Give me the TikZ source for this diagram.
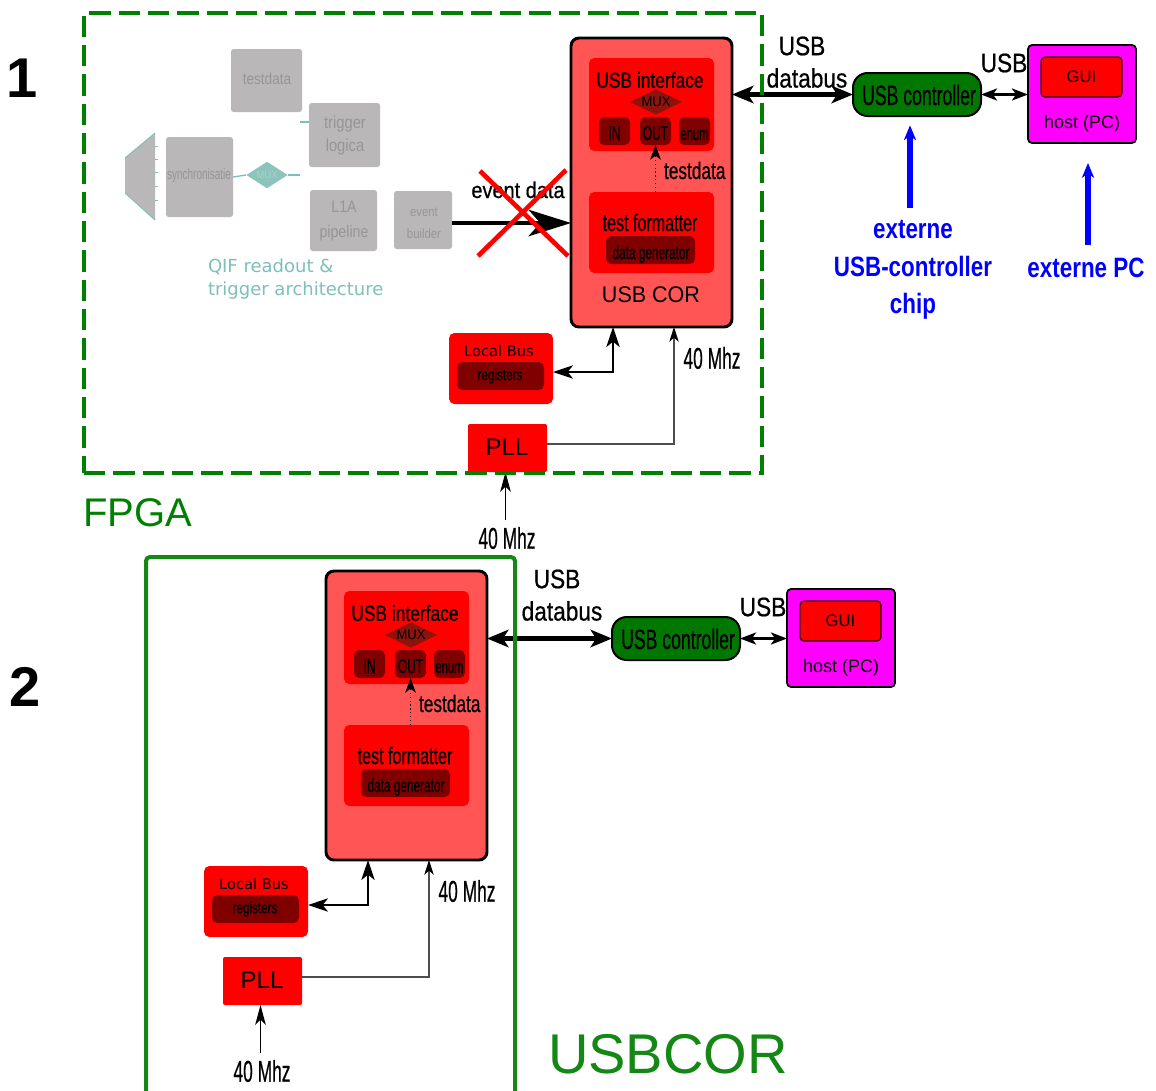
\documentclass[tikz,border=0pt]{standalone}
\usepackage{fontspec}
\usepackage{graphicx}
\setmainfont{Liberation Sans}
\newfontfamily\dejavu{DejaVu Sans}
\newfontfamily\heavy{Liberation Sans}[FakeBold=0.7]
\usetikzlibrary{arrows.meta,shapes.geometric,calc}

\definecolor{corfill}{RGB}{255,85,85}
\definecolor{boxred}{RGB}{255,0,0}
\definecolor{darkred}{RGB}{128,0,0}
\definecolor{muxfill}{RGB}{140,20,10}
\definecolor{fpgagreen}{RGB}{0,128,0}
\definecolor{framegreen}{RGB}{20,135,20}
\definecolor{ctrlgreen}{RGB}{0,120,0}
\definecolor{hostmag}{RGB}{255,0,255}
\definecolor{fadegray}{RGB}{185,183,183}
\definecolor{fadetext}{RGB}{150,150,150}
\definecolor{teal1}{RGB}{125,192,186}
\definecolor{muxteal}{RGB}{140,196,188}
\definecolor{muxtext2}{RGB}{170,208,202}
\definecolor{wire}{RGB}{77,77,77}

% horizontal squeeze of a text
\newcommand\sq[2]{\scalebox{#1}[1]{#2}}
\newcommand\fs[1]{\fontsize{#1}{#1}\selectfont}
% block by its corners: style, x1, y1, x2, y2, name
\newcommand\blk[6]{\node[#1, minimum width={(#4-#2)*0.75pt}, minimum height={(#5-#3)*0.75pt}] (#6) at ({(#2+#4)/2},{(#3+#5)/2}) {};}

% USB core with its local bus, PLL and clock inputs; #1 = name prefix
\newcommand\usbcore[1]{%
  \blk{corbox}{326}{571}{487}{860}{#1cor}
  \blk{redbox}{344}{591}{469}{684}{#1ui}
  \node[lbl,font=\heavy\fs{16.5}] at (405,613) {\sq{.79}{USB interface}};
  \node[diamond,fill=muxfill,inner sep=0pt,minimum width=39pt,minimum height=19pt] (#1mux) at (411,635) {};
  \node[lbl,font=\fs{10.5}] at (#1mux) {\sq{.93}{MUX}};
  \blk{darkbox}{354}{650}{385}{678}{#1in}
  \blk{darkbox}{395}{650}{426}{678}{#1out}
  \blk{darkbox}{434}{650}{465}{678}{#1enum}
  \node[lbl,font=\heavy\fs{15},anchor=base] at (369.5,673) {\sq{.6}{IN}};
  \node[lbl,font=\heavy\fs{15},anchor=base] at (410.5,673) {\sq{.6}{OUT}};
  \node[lbl,font=\heavy\fs{14},anchor=base] at (449.5,673) {\sq{.6}{enum}};
  \blk{redbox}{344}{725}{469}{806}{#1tf}
  \node[lbl,font=\heavy\fs{18},anchor=base] at (405,764) {\sq{.67}{test formatter}};
  \blk{darkbox}{361}{769}{450}{797}{#1dg}
  \node[lbl,font=\heavy\fs{14.3},anchor=base] at (406,792) {\sq{.62}{data generator}};
  \draw[dataflow] (#1out.south |- #1tf.north) -- (#1out.south);
  \node[lbl,font=\heavy\fs{18},anchor=base west] at (419,712) {\sq{.72}{testdata}};
  \blk{redbox}{204}{866}{308}{937}{#1lb}
  \node[lbl,font=\dejavu\fs{11}] at (254,884) {Local Bus};
  \blk{darkbox}{212}{895}{299}{923}{#1reg}
  \node[lbl,font=\heavy\fs{12}] at (255,909) {\sq{.73}{registers}};
  \blk{pllbox}{223}{957}{302}{1005}{#1pll}
  \node[lbl,font=\fs{18}] at (262,980) {PLL};
  \coordinate (#1lbtap) at (368,905);
  \draw[regarrow] (#1cor.south -| #1lbtap) |- (#1lb.east |- #1lbtap);
  \coordinate (#1clk) at (429,977);
  \draw[clkwire] (#1pll.east |- #1clk) -| (#1cor.south -| #1clk);
  \node[lbl,font=\heavy\fs{22.5}] at (467,891) {\sq{.58}{40 Mhz}};
  \coordinate (#1clkin) at (260.5,1053);
  \draw[clkin] (#1clkin) -- (#1pll.south -| #1clkin);
  \node[lbl,font=\heavy\fs{22.5}] at (262,1071) {\sq{.58}{40 Mhz}};
  \node[lbl,font=\heavy\fs{20}] at (557,579) {\sq{.85}{USB}};
  \node[lbl,font=\heavy\fs{20}] at (562,611) {\sq{.85}{databus}};
}

% external USB controller and host PC; #1 = name prefix
\newcommand\usbhost[1]{%
  \blk{ctrlbox}{612}{617}{740}{660}{#1ctrl}
  \node[lbl,font=\heavy\fs{21}] at (678,639) {\sq{.63}{USB controller}};
  \blk{hostbox}{787}{589}{895}{687}{#1host}
  \blk{guibox}{800}{601}{881}{641}{#1gui}
  \node[lbl,font=\fs{12.5}] at (#1gui) {GUI};
  \node[lbl,font=\fs{13.5}] at (841,668) {host (PC)};
  \draw[linkarrow] (#1ctrl.east) -- (#1host.west |- #1ctrl.east);
  \node[lbl,font=\heavy\fs{20}] at (763,607) {\sq{.85}{USB}};
}

\begin{document}
\begin{tikzpicture}[x=0.75pt,y=-0.75pt,
  lbl/.style={inner sep=0pt, outer sep=0pt},
  corbox/.style={draw=black, line width=2.2pt, fill=corfill, rounded corners=6pt, inner sep=0pt, outer sep=0pt},
  redbox/.style={fill=boxred, rounded corners=4pt, inner sep=0pt, outer sep=0pt},
  darkbox/.style={fill=darkred, rounded corners=4pt, inner sep=0pt, outer sep=0pt},
  pllbox/.style={fill=boxred, rounded corners=1.5pt, inner sep=0pt, outer sep=0pt},
  ctrlbox/.style={draw=black, line width=1.5pt, fill=ctrlgreen, rounded corners=11pt, inner sep=0pt, outer sep=0pt},
  hostbox/.style={draw=black, line width=1.3pt, fill=hostmag, rounded corners=3pt, inner sep=0pt, outer sep=0pt},
  guibox/.style={draw=black!60!darkred, line width=0.9pt, fill=boxred, rounded corners=3pt, inner sep=0pt, outer sep=0pt},
  fadebox/.style={fill=fadegray, rounded corners=2pt, inner sep=0pt, outer sep=0pt},
  fpgaframe/.style={draw=fpgagreen, line width=3pt, dash pattern=on 16pt off 6pt, inner sep=0pt, outer sep=0pt},
  coreframe/.style={draw=framegreen, line width=3pt, rounded corners=3pt, inner sep=0pt, outer sep=0pt},
  busarrow/.style={line width=3.5pt, {Stealth[length=16pt,width=13pt,inset=4pt]}-{Stealth[length=16pt,width=13pt,inset=4pt]}},
  linkarrow/.style={line width=2pt, {Stealth[length=12pt,width=9pt,inset=3pt]}-{Stealth[length=12pt,width=9pt,inset=3pt]}},
  regarrow/.style={line width=1.6pt, {Stealth[length=15pt,width=10pt,inset=4pt]}-{Stealth[length=15pt,width=10pt,inset=4pt]}},
  clkwire/.style={draw=wire, line width=1.2pt, -{Stealth[length=11pt,width=7pt,inset=3pt,color=black]}},
  clkin/.style={line width=1.2pt, -{Stealth[length=15pt,width=8pt,inset=4pt]}},
  dataflow/.style={black, line width=0.9pt, dotted, -{Stealth[length=11pt,width=8pt,inset=3pt]}},
  bluearrow/.style={draw=blue, line width=4pt, -{Stealth[length=11pt,width=9pt,inset=3pt]}},
  tealwire/.style={draw=teal1, line width=1pt},
  fadelbl/.style={lbl, text=fadetext},
]
\useasboundingbox (0,0) rectangle (1156,1090);
\fill[white] (0,0) rectangle (1156,1090);

% ---------- 1: USB core inside the FPGA ----------
\begin{scope}[shift={(245,-533)}]
  \usbcore{a}
\end{scope}
\begin{scope}[shift={(241,-544)}]
  \usbhost{a}
\end{scope}
\draw[busarrow] (acor.east |- actrl.west) -- (actrl.west);
\node[lbl,font=\fs{17}] at (651,295) {\sq{.95}{USB COR}};

% QIF readout and trigger chain (faded)
\fill[fadegray] (125,158) -- (155,133) -- (155,220) -- (125,193) -- cycle;
\draw[tealwire,line width=0.7pt] (125,158) -- (155,133) (125,193) -- (155,220);
\foreach \ty in {146,159,172,186,200} \draw[tealwire,line width=0.7pt] (155,\ty) -- (158,\ty);
\blk{fadebox}{231}{49}{302}{112}{tdsrc}
\node[fadelbl,font=\fs{12}] at (267,79) {\sq{.85}{testdata}};
\blk{fadebox}{309}{103}{380}{167}{trig}
\node[fadelbl,font=\fs{13}] at (345,124) {\sq{.85}{trigger}};
\node[fadelbl,font=\fs{13}] at (345,147) {\sq{.85}{logica}};
\blk{fadebox}{166}{137}{233}{217}{sync}
\node[fadelbl,font=\fs{11.5}] at (199,176) {\sq{.65}{synchronisatie}};
\blk{fadebox}{310}{190}{377}{251}{l1a}
\node[fadelbl,font=\fs{12.5}] at (344,207) {\sq{.85}{L1A}};
\node[fadelbl,font=\fs{12.5}] at (344,233) {\sq{.85}{pipeline}};
\blk{fadebox}{394}{191}{452}{249}{evb}
\node[fadelbl,font=\fs{10}] at (424,212) {\sq{.85}{event}};
\node[fadelbl,font=\fs{10}] at (424,234) {\sq{.85}{builder}};
\node[diamond,fill=muxteal,inner sep=0pt,minimum width=31pt,minimum height=20pt] (fmux) at (267,175) {};
\node[lbl,font=\fs{8},text=muxtext2] at (fmux) {\sq{.9}{MUX}};
\draw[tealwire] (sync.east) -- (fmux.west);
\coordinate (muxout) at (300,175);
\draw[tealwire] (fmux.east) -- (muxout);
\coordinate (trigin) at (300,122);
\draw[tealwire] (trigin) -- (trig.west |- trigin);
\node[lbl,text=teal1,font=\dejavu\fontsize{13.5}{17.25}\selectfont,align=left,anchor=west] at (208,279.5) {QIF readout \&\\trigger architecture};

% cancelled event data path
\coordinate (evy) at (452,223);
\draw[line width=2.4pt, -{Stealth[length=32pt,width=20pt,inset=9pt]}] (evb.east |- evy) -- (acor.west |- evy);
\node[lbl,font=\heavy\fs{17},anchor=base] at (518,198) {\sq{.88}{event data}};
\draw[red, line width=3.5pt] (480,171) -- (568,256) (566,170) -- (478,256);

% external parts
\node[lbl,text=blue,align=center,font=\bfseries\fontsize{21}{28}\selectfont] (extchip) at (913,270) {\sq{.8}{externe}\\\sq{.8}{USB-controller}\\\sq{.8}{chip}};
\coordinate (chipfoot) at (910,208);
\draw[bluearrow, shorten >=7pt] (chipfoot) -- (actrl.south -| chipfoot);
\node[lbl,text=blue,font=\bfseries\fs{21}] (extpc) at (1086,268) {\sq{.8}{externe PC}};
\coordinate (pcfoot) at (1088,245);
\draw[bluearrow, shorten >=15pt] (pcfoot) -- (ahost.south -| pcfoot);

\blk{fpgaframe}{84}{13}{762}{473}{fpga}
\node[lbl,text=fpgagreen,font=\fs{30}] at (138,513) {FPGA};
\node[lbl,font=\bfseries\fs{42}] at (22,78) {1};

% ---------- 2: stand-alone USB core ----------
\usbcore{b}
\usbhost{b}
\draw[busarrow] (bcor.east |- bctrl.west) -- (bctrl.west);
\blk{coreframe}{146}{557}{515}{1110}{usbcor}
\node[lbl,text=framegreen,font=\fs{42}] at (668,1054) {USBCOR};
\node[lbl,font=\bfseries\fs{42}] at (25,687) {2};
\end{tikzpicture}
\end{document}
